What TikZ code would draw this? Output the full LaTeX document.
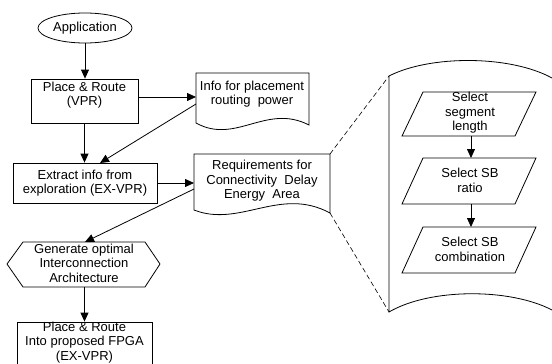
\documentclass[tikz,border=0pt]{standalone}
\usepackage{fontspec}
\setmainfont{Liberation Sans}
\usetikzlibrary{arrows.meta,shapes.geometric}
\begin{document}
\begin{tikzpicture}[x=1pt,y=-1pt,
  line width=0.8pt,
  txt/.style={align=center,inner sep=0pt,font=\fontsize{13}{14.5}\selectfont},
  boxshape/.style={draw,rectangle,inner sep=0pt},
  arr/.style={-{Triangle[length=9pt,width=8pt]}},
  dashline/.style={dash pattern=on 5pt off 3pt,line width=0.6pt}]
\useasboundingbox (0,0) rectangle (552,364);

% Application
\node[draw,ellipse,minimum width=94pt,minimum height=30pt,txt] (app) at (85,28) {Application};

% Place & Route (VPR)
\node[boxshape,minimum width=107pt,minimum height=44pt] (pr1) at (84.5,101) {};
\node[txt] (pr1t) at (84.5,95) {Place \& Route\\(VPR)};

% Info document
\draw (196,123) -- (196,73) -- (309,73) -- (309,125)
      .. controls (266,103) and (236,145) .. (196,123) -- cycle;
\node[txt] (info) at (252,94) {Info for placement\\routing\ \ power};
\coordinate (infoL) at (196,97);
\coordinate (infoL2) at (196,104);

% Extract info
\node[boxshape,minimum width=144pt,minimum height=40pt,txt] (ext) at (85,183) {Extract info from\\exploration (EX-VPR)};
\coordinate (extTop) at (100,163);

% Requirements document
\draw (194,210) -- (194,154) -- (330,154) -- (330,213)
      .. controls (280,186) and (240,228) .. (194,210) -- cycle;
\node[txt] (req) at (262,181) {Requirements for\\Connectivity\ \ Delay\\Energy\ \ Area};
\coordinate (reqL) at (194,189);
\coordinate (reqTR) at (330,154);
\coordinate (reqBR) at (330,213);

% Hexagon
\draw (7,264) -- (23,242) -- (145,242) -- (160,264) -- (145,287) -- (23,287) -- cycle;
\node[txt] (hex) at (84,263) {Generate optimal\\Interconnection\\Architecture};
\coordinate (hexT) at (85,242);
\coordinate (hexB) at (84.5,287);

% Final box
\node[boxshape,minimum width=135pt,minimum height=50pt] (fin) at (84.5,347) {};
\node[txt] (fint) at (84.5,342.5) {Place \& Route\\Into proposed FPGA\\(EX-VPR)};

% Connectors left column
\draw[arr] (app.south) -- (app.south |- pr1.north);
\draw[arr] (infoL -| pr1.east) -- (infoL);
\draw[arr] (pr1.south) -- (pr1.south |- ext.north);
\draw[arr] (infoL2) -- (extTop);
\draw[arr] (ext.east) -- (ext.east -| reqL);
\draw[arr] (reqL) -- (hexT);
\draw[arr] (hexB) -- (hexB |- fin.north);

% Zoom panel
\coordinate (panTL) at (389,76);
\coordinate (panBL) at (389,312);
\draw (552,78) .. controls (510,55) and (430,55) .. (panTL) -- (panBL)
      .. controls (430,288) and (510,288) .. (552,310);
\draw[dashline] (reqTR) -- (panTL);
\draw[dashline] (reqBR) -- (panBL);

% Parallelograms
\draw (402,136) -- (423,92) -- (536,92) -- (515,136) -- cycle;
\node[txt] (s1) at (470,113) {Select\\segment\\length};
\draw (402,204) -- (423,158) -- (536,158) -- (515,204) -- cycle;
\node[txt] (s2) at (470,180.5) {Select SB\\ratio};
\draw (402,273) -- (423,227) -- (536,227) -- (515,273) -- cycle;
\node[txt] (s3) at (470,249.5) {Select SB\\combination};
\coordinate (s1B) at (471,136);
\coordinate (s2T) at (471,158);
\coordinate (s2B) at (471,204);
\coordinate (s3T) at (471,227);
\draw[arr] (s1B) -- (s2T);
\draw[arr] (s2B) -- (s3T);
\end{tikzpicture}
\end{document}
